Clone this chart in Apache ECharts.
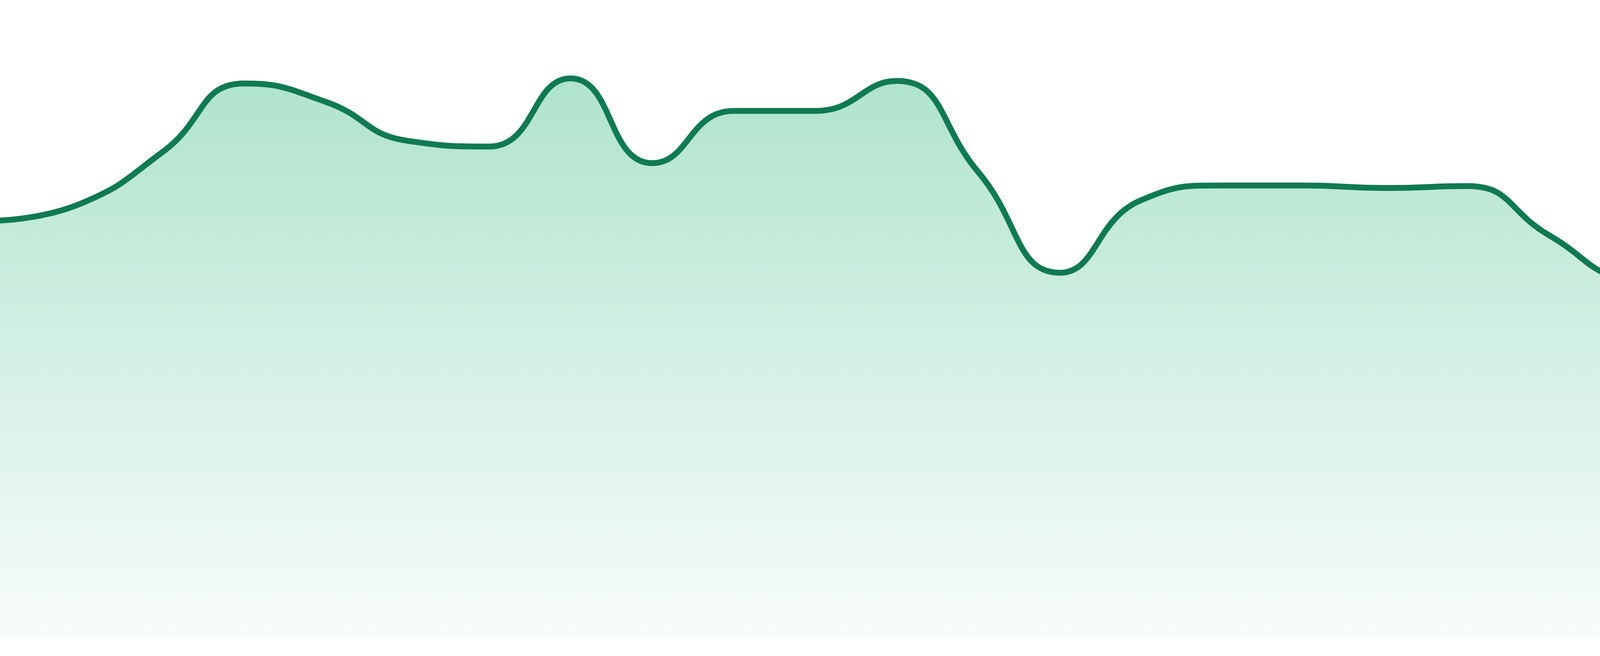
<!DOCTYPE html>
<html>
<head>
<meta charset="utf-8">
<title>trend</title>
<script src="https://cdn.jsdelivr.net/npm/echarts@6/dist/echarts.min.js"></script>
<style>
  html, body { margin: 0; padding: 0; background: #ffffff; }
  #chart { width: 4800px; height: 1680px; }
</style>
</head>
<body>
<div id="chart"></div>
<script>
// one point per step (axis 0..100, hidden)
var categories = ['1', '2', '3', '4', '5', '6', '7', '8', '9', '10', '11', '12',
  '13', '14', '15', '16', '17', '18', '19', '20', '21', '22', '23', '24'];
var values = [65.4, 68.1, 76.2, 86.9, 84.0, 77.9, 77.0, 87.7, 74.4, 82.6, 82.6, 87.3,
  73.0, 57.2, 68.6, 70.9, 70.9, 70.5, 70.8, 63.1, 55.9, 54.7, 50.0, 45.2];
var yRange = [0, 100];

var chart = echarts.init(document.getElementById('chart'));

var option = {
  backgroundColor: '#ffffff',
  animation: false,
  grid: {
    left: 0,
    right: 0,
    top: 0,
    bottom: 48
  },
  xAxis: {
    type: 'category',
    data: categories,
    boundaryGap: false,
    show: false
  },
  yAxis: {
    type: 'value',
    min: yRange[0],
    max: yRange[1],
    show: false
  },
  series: [{
    type: 'line',
    data: values,
    smooth: true,
    symbol: 'none',
    lineStyle: {
      color: '#107a52',
      width: 15
    },
    areaStyle: {
      opacity: 1,
      color: new echarts.graphic.LinearGradient(0, 0, 0, 1, [
        { offset: 0, color: 'rgba(35, 178, 118, 0.36)' },
        { offset: 1, color: 'rgba(35, 178, 118, 0.03)' }
      ])
    }
  }]
};

chart.setOption(option);
</script>
</body>
</html>
